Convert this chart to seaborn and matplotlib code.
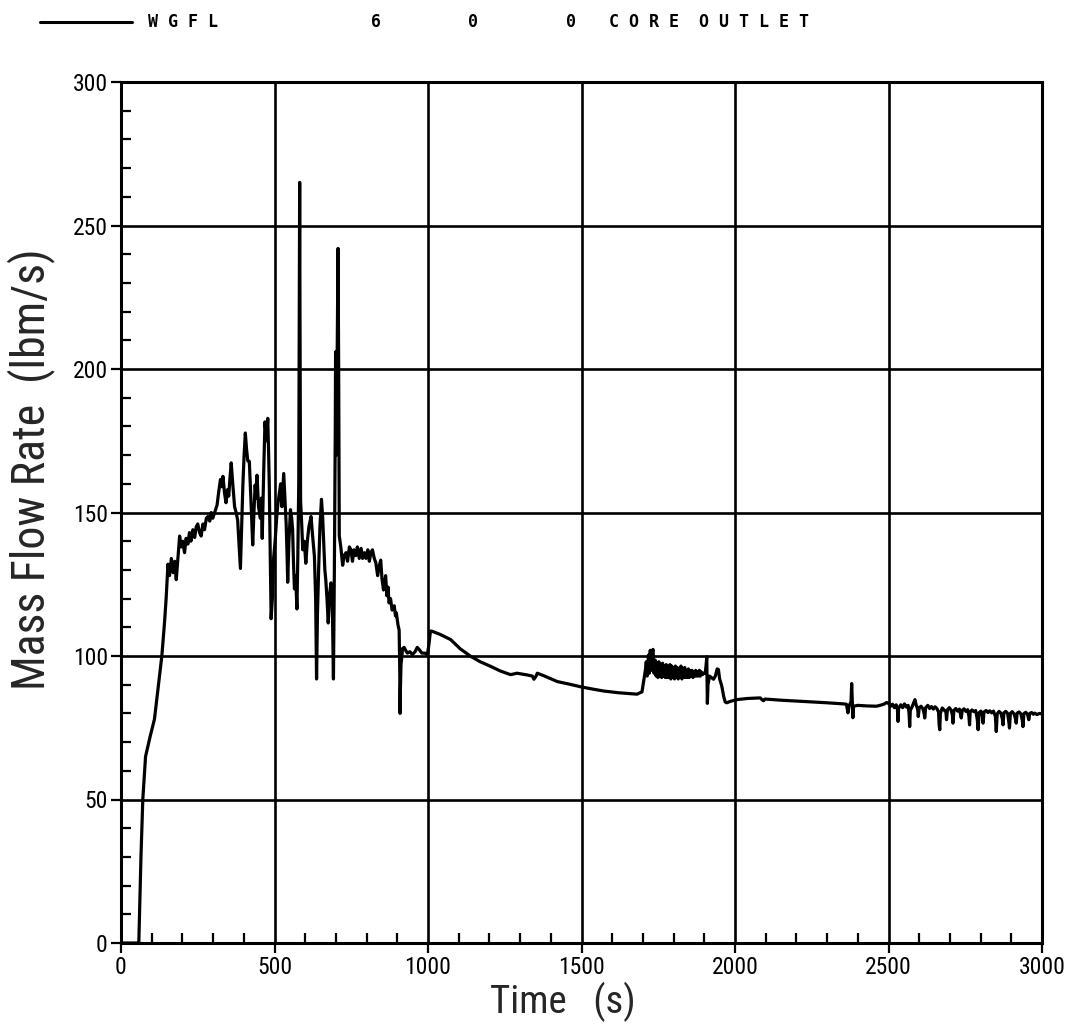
import numpy as np
import pandas as pd
import matplotlib
matplotlib.use("Agg")
import matplotlib.pyplot as plt
from matplotlib.lines import Line2D
from matplotlib.ticker import MultipleLocator
from matplotlib import font_manager
import seaborn as sns

# ---- data: core outlet mass flow rate (WGFL 6 0 0) ----
rise_t = [0, 58, 65, 71, 80, 95, 109, 120, 133, 142, 147, 153]
rise_v = [0, 0, 30, 50, 65, 72, 78, 88, 100, 112, 120, 132]

osc_t = [158, 164, 170, 175, 180, 186, 191, 196, 201, 207, 212, 218, 223, 228, 234, 240,
         245, 250, 256, 261, 267, 272, 278, 283, 289, 294, 299, 305, 313, 318, 324, 328,
         332, 337, 342, 347, 351, 355, 359, 364, 370, 375, 380, 385, 389, 393, 397, 401,
         405, 409, 413, 418, 423, 429, 433, 437, 440, 443, 448, 454, 457, 460, 465, 469,
         474, 478, 481, 483, 486, 489, 493, 497, 502, 507, 511, 516, 520, 524, 530, 534,
         538, 541, 543, 547, 552, 556, 559, 562, 565, 569, 573, 576, 579, 581, 582, 583,
         585, 589, 592, 597, 602, 607, 612, 619, 624, 630, 634, 637, 640, 644, 648, 653,
         657, 661, 664, 667, 671, 675, 680, 684, 688, 692, 695, 698, 699, 701, 703, 705,
         707, 709, 711, 716, 722, 727]
osc_v = [128, 134, 129, 133, 126.6, 135, 141.8, 138, 140, 136, 141, 139, 143, 140, 144, 141.3,
         145, 146, 143, 141.8, 146, 144, 148, 148.6, 147, 150, 148, 150, 152.6, 157, 161.5, 159,
         162.6, 157, 153.4, 158, 155.7, 162, 167.3, 160, 152, 150, 147.3, 138, 130.5, 145, 159.6, 170,
         177.7, 172, 168, 167.8, 155, 138.7, 150, 159.6, 155, 163, 152, 148, 155, 141, 165, 181.6,
         175, 182.8, 170, 159.6, 135, 113, 120, 134, 140, 148, 153, 157, 160, 152, 163.6, 155,
         146, 135, 125.7, 140, 151, 148, 144, 132, 123.4, 128, 116.4, 135, 160, 230, 265, 220,
         154, 145, 137, 140, 132.3, 140, 145, 148.6, 142, 134.7, 120, 92, 115, 131, 145, 154.6,
         148, 138, 130, 126.6, 120, 111.5, 122, 125.5, 120, 92, 130, 180, 206, 170, 190, 215,
         242, 200, 141.9, 138, 131.6, 135]

fall_t = [733, 738, 744, 749, 754, 759, 765, 770, 776, 782, 787, 793, 798, 804, 809, 814,
          819, 825, 830, 836, 840, 846, 850, 855, 859, 862, 866, 870, 873, 878, 883, 890,
          894, 897, 902, 906, 908, 909, 910, 912, 915, 917, 922, 927, 933, 941, 949, 958,
          965, 971, 980, 990, 998, 1003, 1008]
fall_v = [136, 133, 138, 137, 133, 137, 135, 138, 134, 137.5, 134, 136, 134, 137, 133, 136,
          137, 134, 132.5, 128, 131, 133.4, 127, 123, 126, 128, 121, 124, 118.5, 120, 116, 117.5,
          114, 115, 111, 109, 95, 80, 88, 97, 100, 102.6, 103, 102, 101, 101.5, 100.5, 101.5,
          103, 102.3, 101, 101, 100.5, 104, 108.7]

drain_t = [1014, 1040, 1074, 1105, 1139, 1170, 1204, 1235, 1269, 1290, 1323, 1340, 1345,
           1352, 1356, 1380, 1421, 1460, 1496, 1535, 1572, 1620, 1681, 1697]
drain_v = [108.6, 107.5, 105.7, 102.5, 99.9, 98, 96.4, 94.8, 93.5, 94, 93.4, 93, 91.9,
           93, 94, 93, 91.1, 90.2, 89.3, 88.5, 87.8, 87.2, 86.7, 87.5]

band_t = [1708, 1711, 1714, 1718, 1721, 1724, 1727, 1730, 1733, 1736, 1740, 1743, 1746, 1749,
          1752, 1755, 1758, 1761, 1764, 1767, 1770, 1773, 1776, 1779, 1782, 1785, 1788, 1791,
          1794, 1797, 1800, 1803, 1806, 1809, 1812, 1815, 1818, 1821, 1824, 1827, 1830, 1833,
          1836, 1839, 1842, 1845, 1848, 1851, 1854, 1857, 1860, 1863, 1866, 1869, 1872, 1875,
          1878, 1881, 1884, 1887, 1890, 1894, 1898, 1903, 1906, 1908, 1909, 1910, 1912, 1917,
          1923, 1930, 1936, 1942, 1946, 1950, 1957, 1963, 1968, 1973]
band_v = [95, 98, 93, 100.3, 94, 102, 95, 101, 102.3, 94, 98.6, 93, 97.5, 92.5,
          98, 93, 97, 92.5, 97.5, 93, 96.5, 92.5, 97, 92.5, 96, 92.5, 97, 92,
          96.5, 92.5, 96, 92, 96.5, 92.5, 96, 92, 95.5, 92.5, 96.5, 92, 95.5, 92.5,
          96, 92.5, 95, 92.5, 95.5, 92.5, 95, 93, 95, 92.5, 94.5, 93, 95, 93,
          94.5, 93, 95, 93, 94.5, 93.5, 94, 94, 97, 99.7, 90, 83.5, 90, 93,
          92.5, 91.9, 93, 95.5, 95.3, 92, 89.5, 86, 84, 83.7]

late_t = [1985, 2006, 2040, 2082, 2088, 2093, 2098, 2150, 2200, 2244, 2300, 2355, 2363,
          2368, 2372, 2378, 2380, 2382, 2384, 2386, 2400, 2430, 2461, 2472, 2485, 2494]
late_v = [84.2, 84.8, 85.2, 85.4, 84.8, 84.4, 85, 84.6, 84.3, 84, 83.7, 83.3, 83.2,
          80.2, 82.8, 84, 90.4, 84, 78.5, 82.5, 82.8, 82.6, 82.5, 82.8, 83.2, 83.8]

tail_t = [2500, 2507, 2513, 2519, 2525, 2529, 2531, 2533, 2540, 2546, 2552, 2558, 2564, 2567,
          2569, 2571, 2578, 2583, 2586, 2590, 2595, 2597, 2600, 2606, 2612, 2616, 2618, 2621,
          2628, 2634, 2640, 2646, 2652, 2658, 2663, 2665, 2667, 2669, 2675, 2681, 2687, 2689,
          2692, 2698, 2704, 2708, 2710, 2713, 2719, 2725, 2731, 2735, 2737, 2740, 2746, 2752,
          2758, 2762, 2764, 2766, 2772, 2778, 2784, 2789, 2792, 2795, 2801, 2806, 2808, 2811,
          2818, 2824, 2830, 2836, 2842, 2848, 2851, 2854, 2860, 2866, 2871, 2873, 2876, 2882,
          2888, 2892, 2894, 2897, 2903, 2909, 2914, 2916, 2919, 2925, 2931, 2936, 2938, 2941,
          2947, 2953, 2957, 2960, 2966, 2972, 2976, 2984, 2992, 3000]
tail_v = [83.5, 82.5, 83.2, 82, 83, 81.5, 77.2, 81.8, 83, 82, 83.3, 82.2, 82.8, 80,
          75.4, 81, 82.6, 84, 84.8, 83, 81.5, 78.9, 82, 82.5, 81.6, 80, 78.4, 82,
          82.8, 81.7, 82.4, 81.5, 82.3, 81.6, 80.5, 76, 74.3, 80, 81.9, 81.2, 80.5, 77.8,
          81.3, 82, 81.1, 79.5, 76.6, 81, 81.7, 80.8, 81.5, 79.5, 78.4, 81, 81.6, 80.7,
          81.3, 79, 76, 80.5, 81.2, 80.6, 81, 78, 74.3, 80.2, 80.8, 79, 76.6, 80.5,
          81, 80.3, 80.9, 80.2, 80.8, 79, 73.7, 79.8, 80.7, 80.1, 78, 76, 80.2, 80.7,
          80, 77, 74.9, 80, 80.6, 79.8, 78, 76.6, 80.1, 80.5, 79.9, 77.5, 75.4, 79.9,
          80.4, 79.6, 77.8, 80, 80.3, 79.7, 80.1, 79.6, 80, 79.8]

x_ticks = [0, 500, 1000, 1500, 2000, 2500, 3000]
y_ticks = [0, 50, 100, 150, 200, 250, 300]

df = pd.DataFrame({
    "time": rise_t + osc_t + fall_t + drain_t + band_t + late_t + tail_t,
    "flow": rise_v + osc_v + fall_v + drain_v + band_v + late_v + tail_v,
})

sns.set_style("white")

# pick a narrow sans face if one is installed
installed = {f.name for f in font_manager.fontManager.ttflist}
narrow_candidates = ["Liberation Sans Narrow", "Roboto Condensed", "Open Sans Condensed",
                     "Noto Sans Condensed", "DejaVu Sans Condensed"]
narrow_family = [n for n in narrow_candidates if n in installed]
if narrow_family:
    plt.rcParams["font.family"] = [narrow_family[0], "DejaVu Sans"]
else:
    plt.rcParams["font.family"] = ["DejaVu Sans"]
    plt.rcParams["font.stretch"] = "condensed"

W, H = 1070, 1025
fig = plt.figure(figsize=(W / 100, H / 100), dpi=100)
ax = fig.add_axes([121 / W, 1 - 943 / H, (1042 - 121) / W, (943 - 82) / H])

sns.lineplot(data=df, x="time", y="flow", ax=ax, color="black", lw=2.3,
             estimator=None, sort=False, zorder=3)

ax.set_xlim(0, 3000)
ax.set_ylim(0, 300)
ax.set_xticks(x_ticks)
ax.set_yticks(y_ticks)
ax.xaxis.set_minor_locator(MultipleLocator(100))
ax.yaxis.set_minor_locator(MultipleLocator(10))
ax.grid(True, which="major", color="black", lw=1.9, zorder=1)

for s in ax.spines.values():
    s.set_color("black")
    s.set_linewidth(2.2)

ax.tick_params(axis="both", which="major", direction="out", length=7.5, width=1.6,
               labelsize=17, colors="black", pad=2)
ax.tick_params(axis="both", which="minor", direction="in", length=7.5, width=1.6,
               colors="black")
ax.tick_params(axis="both", which="both", top=False, right=False, bottom=True, left=True)

ax.set_xlabel("Time   (s)", fontsize=28)
ax.set_ylabel("Mass Flow Rate  (lbm/s)", fontsize=33)
# label anchors (axes fraction)
ax.xaxis.set_label_coords(0.48, -0.045, transform=ax.transAxes)
ax.yaxis.set_label_coords(-0.072, 0.55, transform=ax.transAxes)
ax.xaxis.label.set_va("top")

# header legend row
ylh = 1 - 22 / H
fig.add_artist(Line2D([40 / W, 132 / W], [ylh, ylh], color="black", lw=2.2,
                      transform=fig.transFigure))
mono = dict(family="DejaVu Sans Mono", fontsize=12, va="center", ha="left",
            color="black", weight="bold")
fig.text(148 / W, ylh, "W G F L", **mono)
fig.text(371 / W, ylh, "6", **mono)
fig.text(468 / W, ylh, "0", **mono)
fig.text(566 / W, ylh, "0", **mono)
fig.text(609 / W, ylh, "C O R E  O U T L E T", **mono)

fig.savefig("out.png", dpi=100, facecolor="white")
